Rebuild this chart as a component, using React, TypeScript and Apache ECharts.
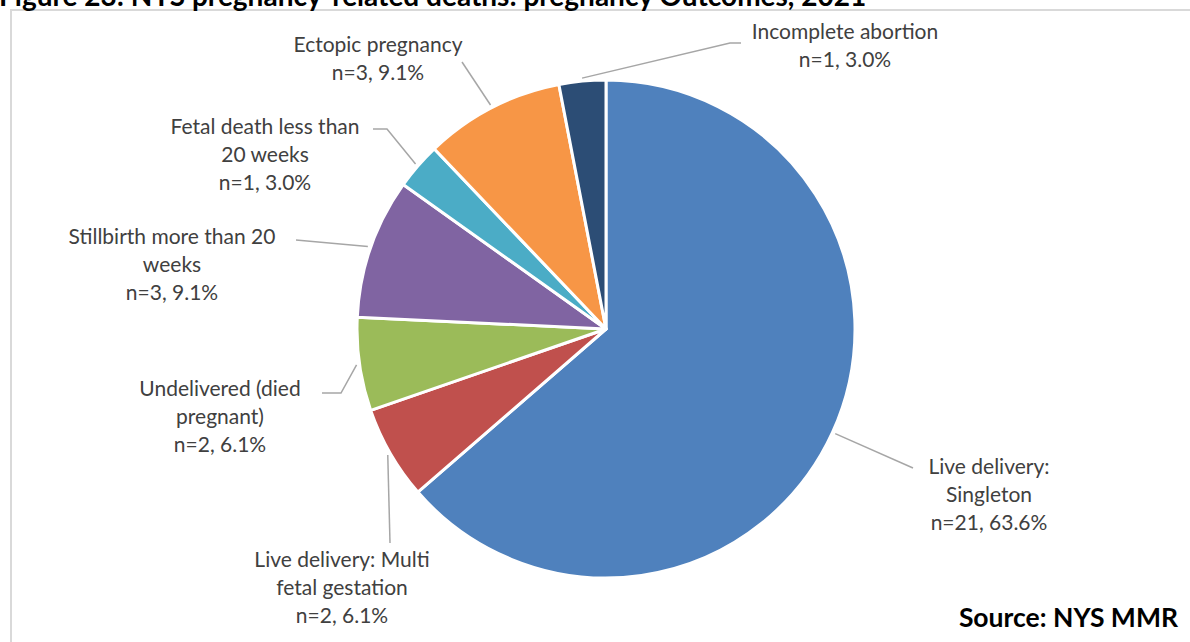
import React, { useEffect, useRef } from "react";
import * as echarts from "echarts";

const categories = [
  "Live delivery: Singleton",
  "Live delivery: Multi fetal gestation",
  "Undelivered (died pregnant)",
  "Stillbirth more than 20 weeks",
  "Fetal death less than 20 weeks",
  "Ectopic pregnancy",
  "Incomplete abortion",
];
const labelLines = [
  "Live delivery:\nSingleton",
  "Live delivery: Multi\nfetal gestation",
  "Undelivered (died\npregnant)",
  "Stillbirth more than 20\nweeks",
  "Fetal death less than\n20 weeks",
  "Ectopic pregnancy",
  "Incomplete abortion",
];
const counts = [21, 2, 2, 3, 1, 3, 1];
const colors = ["#4F81BD", "#C0504D", "#9BBB59", "#8064A2", "#4BACC6", "#F79646", "#2C4D75"];

const TITLE = "Figure 23: NYS pregnancy-related deaths: pregnancy Outcomes, 2021";
const SOURCE = "Source: NYS MMR";

// label placement (chart pixel space)
const CX = 606, CY = 329, R = 249;
const labelPos = [
  { x: 989, y: 493, line: [[913, 468]] },
  { x: 342, y: 586, line: [[390, 543]] },
  { x: 220, y: 415, line: [[341, 393], [322, 393]] },
  { x: 172, y: 263, line: [[296, 240]] },
  { x: 265, y: 153, line: [[387, 129], [373, 129]] },
  { x: 378, y: 57, line: [[462, 62]] },
  { x: 845, y: 44, line: [[730, 43], [741, 43]] },
];

export default function App() {
  const ref = useRef<HTMLDivElement>(null);
  useEffect(() => {
    document.body.style.margin = "0";
    const chart = echarts.init(ref.current!, null, { renderer: "svg" });
    const total = counts.reduce((a, b) => a + b, 0);
    const mids: number[] = [];
    let acc = 0;
    counts.forEach((c) => {
      mids.push(((acc + c / 2) / total) * 2 * Math.PI);
      acc += c;
    });
    const font = "Lato, 'Open Sans', sans-serif";
    chart.setOption({
      animation: false,
      backgroundColor: "#ffffff",
      graphic: [
        {
          type: "rect",
          shape: { x: 11, y: 10, width: 1200, height: 700 },
          style: { fill: "none", stroke: "#d9d9d9", lineWidth: 2 },
          silent: true,
        },
        {
          type: "text",
          x: -1,
          y: 9,
          style: {
            text: TITLE,
            fill: "#000",
            font: `bold 28px ${font}`,
            textVerticalAlign: "bottom",
          },
        },
        {
          type: "text",
          x: 1178,
          y: 617,
          style: {
            text: SOURCE,
            fill: "#000",
            font: `bold 26.5px ${font}`,
            textAlign: "right",
            textVerticalAlign: "middle",
          },
        },
      ],
      series: [
        {
          type: "pie",
          center: [CX, CY],
          radius: R,
          startAngle: 90,
          clockwise: true,
          data: categories.map((name, i) => ({
            name,
            value: counts[i],
            itemStyle: { color: colors[i] },
          })),
          itemStyle: { borderColor: "#ffffff", borderWidth: 3 },
          label: {
            show: true,
            position: "outside",
            fontFamily: font,
            fontSize: 21,
            lineHeight: 28,
            color: "#404040",
            align: "center",
            formatter: (p: any) =>
              `${labelLines[p.dataIndex]}\nn=${p.value}, ${((p.value / total) * 100).toFixed(1)}%`,
          },
          labelLine: {
            show: true,
            lineStyle: { color: "#a6a6a6", width: 1.5 },
          },
          labelLayout: (params: any) => {
            const i = params.dataIndex;
            const lp = labelPos[i];
            const a = mids[i];
            const sx = CX + (R + 3) * Math.sin(a);
            const sy = CY - (R + 3) * Math.cos(a);
            return {
              x: lp.x,
              y: lp.y,
              align: "center",
              verticalAlign: "middle",
              labelLinePoints: [[sx, sy], ...lp.line],
            };
          },
          emphasis: { disabled: true },
        },
      ],
    });
    return () => chart.dispose();
  }, []);
  return (
    <div
      ref={ref}
      style={{ position: "fixed", left: 0, top: 0, width: 1190, height: 642 }}
    />
  );
}
